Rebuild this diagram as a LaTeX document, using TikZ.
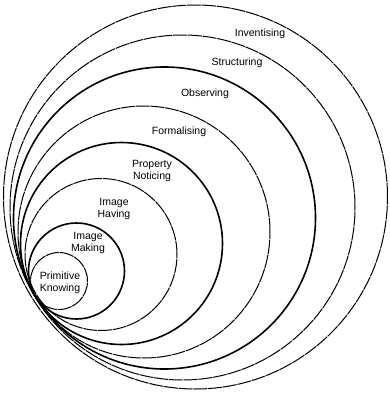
\documentclass[tikz,border=0pt]{standalone}
\usepackage{fontspec}
\setmainfont{Liberation Sans}
\usetikzlibrary{positioning}

\tikzset{
  boldring/.style={line width=1.6pt},
  thinring/.style={line width=1pt, dash pattern=on 14pt off 0.8pt},
  level/.style={font=\fontsize{10.5}{12.5}\selectfont, align=center, inner sep=0pt},
}

\begin{document}
\begin{tikzpicture}[x=1pt,y=-1pt]
    \useasboundingbox (0,0) rectangle (389,394);

    % Nested rings, all meeting near the lower left
    \draw[thinring] (59,281) circle (28.5pt);
    \draw[boldring] (76.5,271) circle (48pt);
    \draw[thinring] (101,254.5) circle (76pt);
    \draw[boldring] (121.5,243.5) circle (101pt);
    \draw[thinring] (144,232) circle (126pt);
    \draw[boldring] (164.5,218) circle (151pt);
    \draw[thinring] (182.5,207.5) circle (172.5pt);
    \draw[thinring] (195.5,197) circle (192pt);

    % Level names
    \node[level] (prim) at (60,283) {Primitive\\Knowing};
    \node[level] (making) at (88,243) {Image\\Making};
    \node[level] (having) at (114,209) {Image\\Having};
    \node[level] (noticing) at (152,171) {Property\\Noticing};
    \node[level] (formal) at (179,132) {Formalising};
    \node[level] (observe) at (205,94) {Observing};
    \node[level] (struct) at (237,63) {Structuring};
    \node[level] (invent) at (260,34) {Inventising};
\end{tikzpicture}
\end{document}
